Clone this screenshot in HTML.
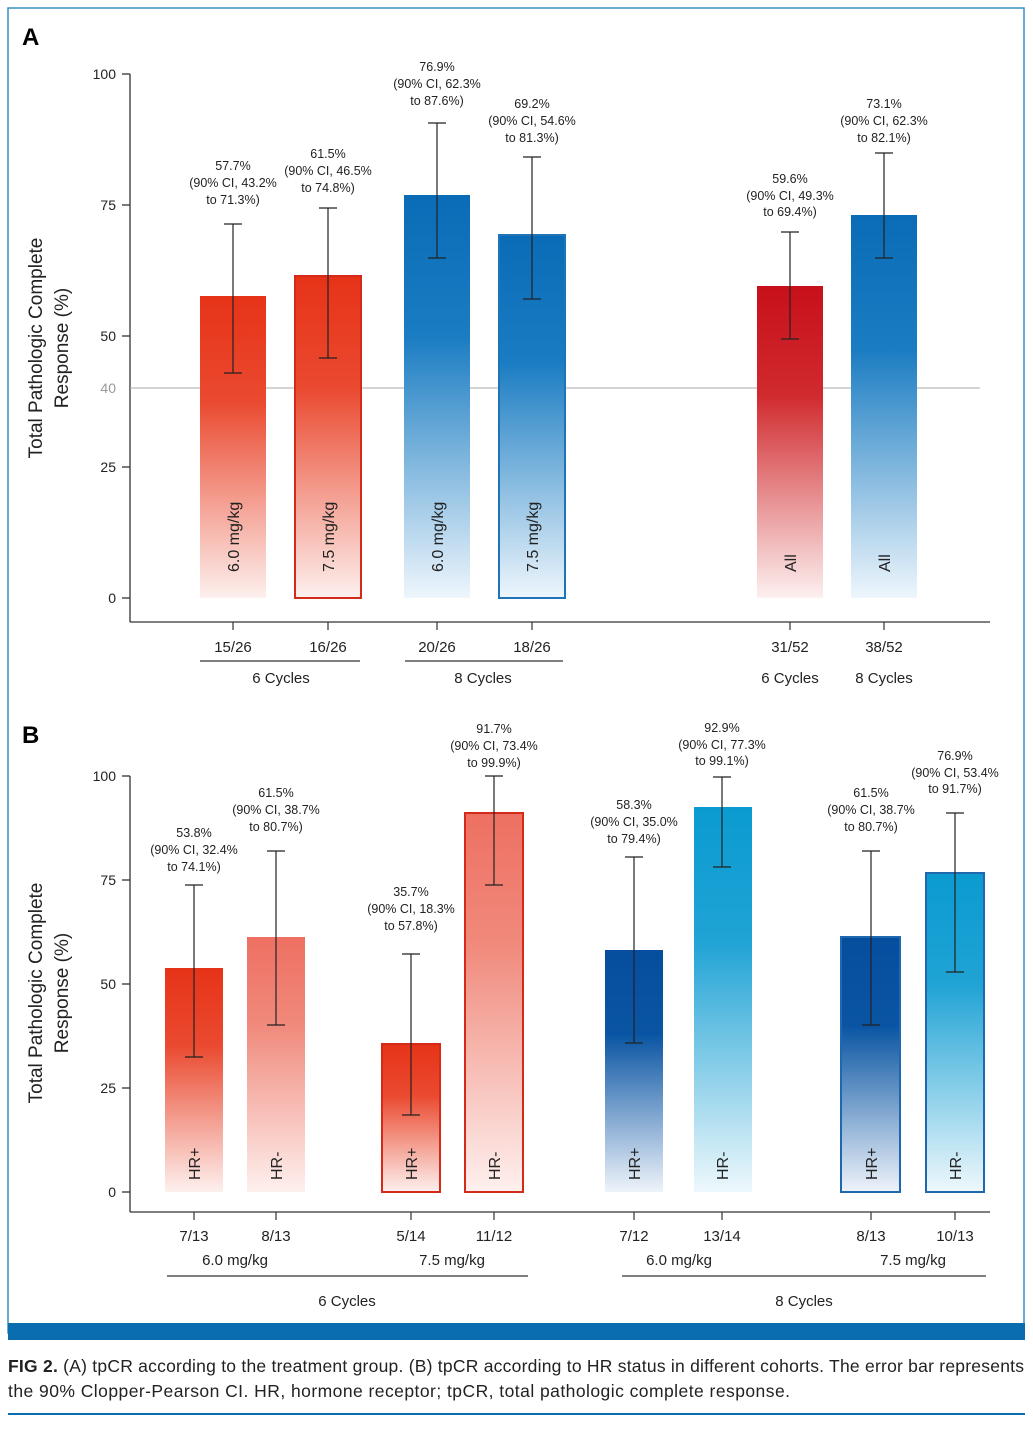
<!DOCTYPE html><html><head><meta charset="utf-8"><style>
body{margin:0;background:#fff}
svg{display:block;font-family:"Liberation Sans",Arial,sans-serif}
</style></head><body>
<svg width="1033" height="1429" viewBox="0 0 1033 1429" xmlns="http://www.w3.org/2000/svg">
<defs>
<linearGradient id="r1" x1="0" y1="0" x2="0" y2="1"><stop offset="0" stop-color="#e63318"/><stop offset="0.35" stop-color="#ea4a30"/><stop offset="1" stop-color="#fdf0ee"/></linearGradient>
<linearGradient id="r2" x1="0" y1="0" x2="0" y2="1"><stop offset="0" stop-color="#c8101a"/><stop offset="0.35" stop-color="#d02a2e"/><stop offset="1" stop-color="#fdf0f0"/></linearGradient>
<linearGradient id="rl" x1="0" y1="0" x2="0" y2="1"><stop offset="0" stop-color="#ee7062"/><stop offset="0.35" stop-color="#f08a7c"/><stop offset="1" stop-color="#fef0ee"/></linearGradient>
<linearGradient id="b1" x1="0" y1="0" x2="0" y2="1"><stop offset="0" stop-color="#0a6cb6"/><stop offset="0.35" stop-color="#1a7cc2"/><stop offset="1" stop-color="#eef6fc"/></linearGradient>
<linearGradient id="bd" x1="0" y1="0" x2="0" y2="1"><stop offset="0" stop-color="#064d9e"/><stop offset="0.35" stop-color="#0a55a3"/><stop offset="1" stop-color="#eef3fa"/></linearGradient>
<linearGradient id="bc" x1="0" y1="0" x2="0" y2="1"><stop offset="0" stop-color="#0a9bd0"/><stop offset="0.35" stop-color="#20a3d5"/><stop offset="1" stop-color="#eef8fc"/></linearGradient>
</defs>
<rect x="8" y="8" width="1016" height="1325" fill="none" stroke="#3a8fc4" stroke-width="1.5"/>
<rect x="8" y="1323" width="1017" height="17" fill="#0a6db0"/>
<rect x="8" y="1413" width="1017" height="2" fill="#0a6db0"/>
<text x="22" y="45" font-size="24" font-weight="bold">A</text>
<text x="22" y="743" font-size="24" font-weight="bold">B</text>

<g font-size="14" fill="#222">
<g stroke="#333" stroke-width="1.3">
<line x1="130" y1="74" x2="130" y2="622"/><line x1="130" y1="622" x2="990" y2="622"/>
<line x1="122" y1="74" x2="130" y2="74"/><line x1="122" y1="205" x2="130" y2="205"/><line x1="122" y1="336" x2="130" y2="336"/><line x1="122" y1="467" x2="130" y2="467"/><line x1="122" y1="598" x2="130" y2="598"/>
</g>
<line x1="130" y1="388" x2="980" y2="388" stroke="#aaa" stroke-width="1"/>
<g text-anchor="end"><text x="116" y="79">100</text><text x="116" y="210">75</text><text x="116" y="341">50</text><text x="116" y="393" fill="#999">40</text><text x="116" y="472">25</text><text x="116" y="603">0</text></g>
<text transform="translate(42,348) rotate(-90)" text-anchor="middle" font-size="19">Total Pathologic Complete</text>
<text transform="translate(68,348) rotate(-90)" text-anchor="middle" font-size="19">Response (%)</text>

<rect x="200" y="296" width="66" height="302" fill="url(#r1)"/>
<rect x="295" y="276" width="66" height="322" fill="url(#r1)" stroke="#d42a1a" stroke-width="2"/>
<rect x="404" y="195" width="66" height="403" fill="url(#b1)"/>
<rect x="499" y="235" width="66" height="363" fill="url(#b1)" stroke="#1f74b8" stroke-width="2"/>
<rect x="757" y="286" width="66" height="312" fill="url(#r2)"/>
<rect x="851" y="215" width="66" height="383" fill="url(#b1)"/>

<g stroke="#222" stroke-width="1.2">
<path d="M233 224V373M224 224h18M224 373h18"/>
<path d="M328 208V358M319 208h18M319 358h18"/>
<path d="M437 123V258M428 123h18M428 258h18"/>
<path d="M532 157V299M523 157h18M523 299h18"/>
<path d="M790 232V339M781 232h18M781 339h18"/>
<path d="M884 153V258M875 153h18M875 258h18"/>
</g>
<g font-size="16">
<text transform="translate(239,572) rotate(-90)">6.0 mg/kg</text>
<text transform="translate(334,572) rotate(-90)">7.5 mg/kg</text>
<text transform="translate(443,572) rotate(-90)">6.0 mg/kg</text>
<text transform="translate(538,572) rotate(-90)">7.5 mg/kg</text>
<text transform="translate(796,572) rotate(-90)">All</text>
<text transform="translate(890,572) rotate(-90)">All</text>
</g>
<g font-size="12.5" text-anchor="middle">
<text x="233" y="170">57.7%</text><text x="233" y="187">(90% CI, 43.2%</text><text x="233" y="204">to 71.3%)</text>
<text x="328" y="158">61.5%</text><text x="328" y="175">(90% CI, 46.5%</text><text x="328" y="192">to 74.8%)</text>
<text x="437" y="71">76.9%</text><text x="437" y="88">(90% CI, 62.3%</text><text x="437" y="105">to 87.6%)</text>
<text x="532" y="108">69.2%</text><text x="532" y="125">(90% CI, 54.6%</text><text x="532" y="142">to 81.3%)</text>
<text x="790" y="183">59.6%</text><text x="790" y="200">(90% CI, 49.3%</text><text x="790" y="216">to 69.4%)</text>
<text x="884" y="108">73.1%</text><text x="884" y="125">(90% CI, 62.3%</text><text x="884" y="142">to 82.1%)</text>
</g>
<g stroke="#333" stroke-width="1.2"><path d="M233 622v8M328 622v8M437 622v8M532 622v8M790 622v8M884 622v8"/>
<path d="M200 661H360M405 661H563"/></g>
<g text-anchor="middle" font-size="15">
<text x="233" y="652">15/26</text><text x="328" y="652">16/26</text><text x="437" y="652">20/26</text><text x="532" y="652">18/26</text><text x="790" y="652">31/52</text><text x="884" y="652">38/52</text>
<text x="281" y="683">6 Cycles</text><text x="483" y="683">8 Cycles</text><text x="790" y="683">6 Cycles</text><text x="884" y="683">8 Cycles</text>
</g>

<g stroke="#333" stroke-width="1.3">
<line x1="130" y1="776" x2="130" y2="1212"/><line x1="130" y1="1212" x2="990" y2="1212"/>
<line x1="122" y1="776" x2="130" y2="776"/><line x1="122" y1="880" x2="130" y2="880"/><line x1="122" y1="984" x2="130" y2="984"/><line x1="122" y1="1088" x2="130" y2="1088"/><line x1="122" y1="1192" x2="130" y2="1192"/>
</g>
<g text-anchor="end"><text x="116" y="781">100</text><text x="116" y="885">75</text><text x="116" y="989">50</text><text x="116" y="1093">25</text><text x="116" y="1197">0</text></g>
<text transform="translate(42,993) rotate(-90)" text-anchor="middle" font-size="19">Total Pathologic Complete</text>
<text transform="translate(68,993) rotate(-90)" text-anchor="middle" font-size="19">Response (%)</text>

<rect x="165" y="968" width="58" height="224" fill="url(#r1)"/>
<rect x="247" y="937" width="58" height="255" fill="url(#rl)"/>
<rect x="382" y="1044" width="58" height="148" fill="url(#r1)" stroke="#d42a1a" stroke-width="2"/>
<rect x="465" y="813" width="58" height="379" fill="url(#rl)" stroke="#d42a1a" stroke-width="2"/>
<rect x="605" y="950" width="58" height="242" fill="url(#bd)"/>
<rect x="694" y="807" width="58" height="385" fill="url(#bc)"/>
<rect x="841" y="937" width="59" height="255" fill="url(#bd)" stroke="#1f68b0" stroke-width="2"/>
<rect x="926" y="873" width="58" height="319" fill="url(#bc)" stroke="#1f68b0" stroke-width="2"/>

<g stroke="#222" stroke-width="1.2">
<path d="M194 885V1057M185 885h18M185 1057h18"/>
<path d="M276 851V1025M267 851h18M267 1025h18"/>
<path d="M411 954V1115M402 954h18M402 1115h18"/>
<path d="M494 776V885M485 776h18M485 885h18"/>
<path d="M634 857V1043M625 857h18M625 1043h18"/>
<path d="M722 777V867M713 777h18M713 867h18"/>
<path d="M871 851V1025M862 851h18M862 1025h18"/>
<path d="M955 813V972M946 813h18M946 972h18"/>
</g>
<g font-size="16">
<text transform="translate(200,1180) rotate(-90)">HR+</text>
<text transform="translate(282,1180) rotate(-90)">HR-</text>
<text transform="translate(417,1180) rotate(-90)">HR+</text>
<text transform="translate(500,1180) rotate(-90)">HR-</text>
<text transform="translate(640,1180) rotate(-90)">HR+</text>
<text transform="translate(728,1180) rotate(-90)">HR-</text>
<text transform="translate(877,1180) rotate(-90)">HR+</text>
<text transform="translate(961,1180) rotate(-90)">HR-</text>
</g>
<g font-size="12.5" text-anchor="middle">
<text x="194" y="837">53.8%</text><text x="194" y="854">(90% CI, 32.4%</text><text x="194" y="871">to 74.1%)</text>
<text x="276" y="797">61.5%</text><text x="276" y="814">(90% CI, 38.7%</text><text x="276" y="831">to 80.7%)</text>
<text x="411" y="896">35.7%</text><text x="411" y="913">(90% CI, 18.3%</text><text x="411" y="930">to 57.8%)</text>
<text x="494" y="733">91.7%</text><text x="494" y="750">(90% CI, 73.4%</text><text x="494" y="767">to 99.9%)</text>
<text x="634" y="809">58.3%</text><text x="634" y="826">(90% CI, 35.0%</text><text x="634" y="843">to 79.4%)</text>
<text x="722" y="732">92.9%</text><text x="722" y="749">(90% CI, 77.3%</text><text x="722" y="765">to 99.1%)</text>
<text x="871" y="797">61.5%</text><text x="871" y="814">(90% CI, 38.7%</text><text x="871" y="831">to 80.7%)</text>
<text x="955" y="760">76.9%</text><text x="955" y="777">(90% CI, 53.4%</text><text x="955" y="793">to 91.7%)</text>
</g>
<g stroke="#333" stroke-width="1.2"><path d="M194 1212v8M276 1212v8M411 1212v8M494 1212v8M634 1212v8M722 1212v8M871 1212v8M955 1212v8"/>
<path d="M167 1276H528M622 1276H986"/></g>
<g text-anchor="middle" font-size="15">
<text x="194" y="1241">7/13</text><text x="276" y="1241">8/13</text><text x="411" y="1241">5/14</text><text x="494" y="1241">11/12</text><text x="634" y="1241">7/12</text><text x="722" y="1241">13/14</text><text x="871" y="1241">8/13</text><text x="955" y="1241">10/13</text>
<text x="235" y="1265">6.0 mg/kg</text><text x="452" y="1265">7.5 mg/kg</text><text x="679" y="1265">6.0 mg/kg</text><text x="913" y="1265">7.5 mg/kg</text>
<text x="347" y="1306">6 Cycles</text><text x="804" y="1306">8 Cycles</text>
</g>
</g>
<g font-size="17.5" fill="#222">
<text x="8" y="1372" textLength="1016" lengthAdjust="spacing"><tspan font-weight="bold">FIG 2.</tspan>  (A) tpCR according to the treatment group. (B) tpCR according to HR status in different cohorts. The error bar represents</text>
<text x="8" y="1397" textLength="782" lengthAdjust="spacing">the 90% Clopper-Pearson CI. HR, hormone receptor; tpCR, total pathologic complete response.</text>
</g>
</svg>
</body></html>
